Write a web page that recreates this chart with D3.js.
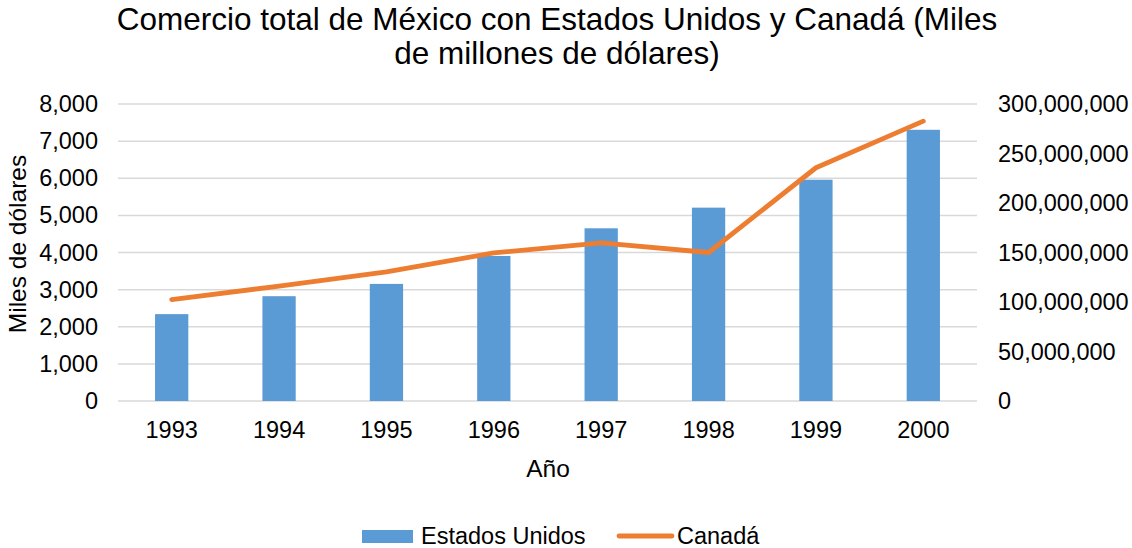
<!DOCTYPE html>
<html>
<head>
<meta charset="utf-8">
<script src="https://cdn.jsdelivr.net/npm/d3@7"></script>
<style>
  body { margin: 0; background: #fff; }
  text { font-family: "Liberation Sans", Arial, sans-serif; fill: #000; }
</style>
</head>
<body>
<script>
const width = 1132;
const height = 548;
const margin = { top: 104, right: 155, bottom: 147, left: 118 };

// data
const years = ['1993', '1994', '1995', '1996', '1997', '1998', '1999', '2000'];
const estadosUnidos = [2340, 2823, 3154, 3907, 4652, 5208, 5961, 7305];
const canada = [102500000, 116000000, 130400000, 149600000, 159700000, 150000000, 235600000, 282700000];
const leftTicks = [0, 1000, 2000, 3000, 4000, 5000, 6000, 7000, 8000];
const rightTicks = [0, 50000000, 100000000, 150000000, 200000000, 250000000, 300000000];

const svg = d3.select('body')
  .append('svg')
    .attr('width', width)
    .attr('height', height);

const plot = {
  x0: margin.left,
  x1: width - margin.right,
  y0: height - margin.bottom,
  y1: margin.top,
};

const x = d3.scaleBand()
  .domain(years)
  .range([plot.x0, plot.x1])
  .paddingInner(0.69)
  .paddingOuter(0.345);

const yLeft = d3.scaleLinear()
  .domain([0, 8000])
  .range([plot.y0, plot.y1]);

const yRight = d3.scaleLinear()
  .domain([0, 300000000])
  .range([plot.y0, plot.y1]);

const fmt = d3.format(',');
const tickFont = 23.5;

const styleTicks = (g) => {
  g.select('.domain').remove();
  g.selectAll('text')
    .attr('font-size', tickFont)
    .attr('fill', '#000')
    .style('font-family', '"Liberation Sans", Arial, sans-serif');
};

// gridlines
svg.append('g')
  .selectAll('line')
  .data(leftTicks)
  .join('line')
    .attr('x1', plot.x0)
    .attr('x2', plot.x1)
    .attr('y1', d => yLeft(d))
    .attr('y2', d => yLeft(d))
    .attr('stroke', '#d9d9d9')
    .attr('stroke-width', 1.5);

// left axis
svg.append('g')
  .attr('transform', `translate(${plot.x0 - 20},0)`)
  .call(d3.axisLeft(yLeft).tickValues(leftTicks).tickFormat(fmt).tickSize(0).tickPadding(0))
  .call(styleTicks);

// right axis
svg.append('g')
  .attr('transform', `translate(${plot.x1 + 21},0)`)
  .call(d3.axisRight(yRight).tickValues(rightTicks).tickFormat(fmt).tickSize(0).tickPadding(0))
  .call(styleTicks);

// bottom axis
const bottomAxis = svg.append('g')
  .attr('transform', `translate(0,${plot.y0})`)
  .call(d3.axisBottom(x).tickSize(0).tickPadding(0))
  .call(styleTicks);
bottomAxis.selectAll('text')
  .attr('dy', null)
  .attr('y', 37);

// bars
svg.append('g')
  .selectAll('rect')
  .data(estadosUnidos)
  .join('rect')
    .attr('x', (d, i) => x(years[i]))
    .attr('y', d => yLeft(d))
    .attr('width', x.bandwidth())
    .attr('height', d => yLeft(0) - yLeft(d))
    .attr('fill', '#5b9bd5');

// line
const line = d3.line()
  .x((d, i) => x(years[i]) + x.bandwidth() / 2)
  .y(d => yRight(d));

svg.append('path')
  .datum(canada)
  .attr('fill', 'none')
  .attr('stroke', '#ed7d31')
  .attr('stroke-width', 4.8)
  .attr('stroke-linecap', 'round')
  .attr('stroke-linejoin', 'round')
  .attr('d', line);

// title
const title = svg.append('text')
  .attr('text-anchor', 'middle')
  .attr('font-size', 31.5);
title.append('tspan')
  .attr('x', 557)
  .attr('y', 30)
  .text('Comercio total de México con Estados Unidos y Canadá (Miles');
title.append('tspan')
  .attr('x', 557)
  .attr('y', 64)
  .text('de millones de dólares)');

// axis titles
svg.append('text')
  .attr('transform', `translate(26,244) rotate(-90)`)
  .attr('text-anchor', 'middle')
  .attr('font-size', 24.5)
  .text('Miles de dólares');

svg.append('text')
  .attr('x', 548)
  .attr('y', 477)
  .attr('text-anchor', 'middle')
  .attr('font-size', 24.5)
  .text('Año');

// legend
const legend = svg.append('g');
legend.append('rect')
  .attr('x', 362)
  .attr('y', 530)
  .attr('width', 51)
  .attr('height', 13)
  .attr('fill', '#5b9bd5');
legend.append('text')
  .attr('x', 421)
  .attr('y', 543.5)
  .attr('font-size', tickFont)
  .text('Estados Unidos');
legend.append('line')
  .attr('x1', 619)
  .attr('x2', 672)
  .attr('y1', 536)
  .attr('y2', 536)
  .attr('stroke', '#ed7d31')
  .attr('stroke-width', 4.8)
  .attr('stroke-linecap', 'round');
legend.append('text')
  .attr('x', 677)
  .attr('y', 543.5)
  .attr('font-size', tickFont)
  .text('Canadá');
</script>
</body>
</html>
